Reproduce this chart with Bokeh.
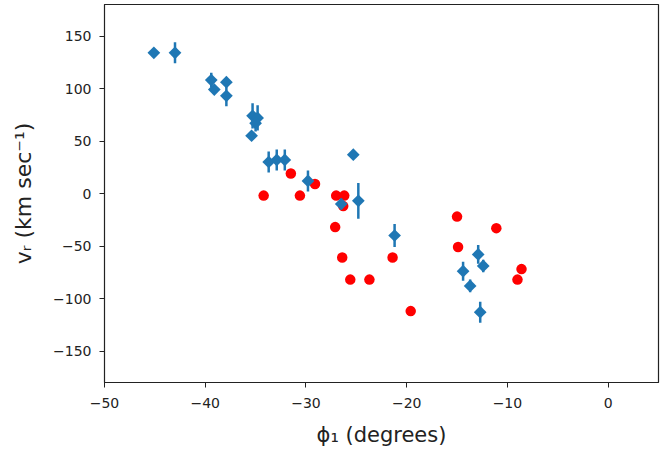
import numpy as np
from bokeh.plotting import figure
from bokeh.models import ColumnDataSource, CustomJSTickFormatter, FixedTicker, Range1d
from bokeh.embed import file_html
from bokeh.resources import INLINE

# Blue: measured stars with error bars
blue_x = [-45.1, -43.0, -39.4, -39.1, -37.9, -37.9, -35.3, -34.8, -35.0, -35.4,
          -33.7, -32.9, -32.1, -29.8, -25.3, -26.5, -24.8, -21.2, -12.9, -12.4,
          -14.4, -13.7, -12.7]
blue_y = [134, 134, 108, 99, 106, 93, 74, 72, 67, 55,
          30, 32, 32, 12, 37, -10, -7, -40, -58, -69,
          -74, -88, -113]
blue_err = [3, 10, 7, 4, 4, 10, 12, 12, 8, 4,
            10, 10, 10, 10, 4, 5, 17, 11, 9, 6,
            9, 6, 10]

# Red: model / other sample
red_x = [-31.5, -34.2, -30.6, -29.1, -27.0, -26.2, -26.3, -27.1, -26.4, -25.6,
         -23.7, -21.4, -15.0, -11.1, -14.9, -19.6, -8.6, -9.0]
red_y = [19, -2, -2, 9, -2, -2, -12, -32, -61, -82,
         -82, -61, -22, -33, -51, -112, -72, -82]

x_ticks = [-50, -40, -30, -20, -10, 0]
y_ticks = [-150, -100, -50, 0, 50, 100, 150]

FONT = "DejaVu Sans"

p = figure(width=666, height=455, output_backend="svg", toolbar_location=None,
           x_range=Range1d(-50, 5), y_range=Range1d(-180, 180),
           min_border_left=104, min_border_right=8, min_border_top=4,
           min_border_bottom=73)
p.frame_width = 554
p.frame_height = 378

p.grid.visible = False
p.outline_line_color = "#222222"
p.outline_line_width = 1.2
p.background_fill_color = "white"
p.border_fill_color = "white"

be = np.array(blue_err)
by = np.array(blue_y)
bsrc = ColumnDataSource(dict(x=blue_x, y=blue_y, lo=list(by - be), hi=list(by + be)))
rsrc = ColumnDataSource(dict(x=red_x, y=red_y))

p.scatter("x", "y", source=rsrc, marker="circle", size=10.5, color="red", line_color=None)
p.segment(x0="x", y0="lo", x1="x", y1="hi", source=bsrc, line_color="#1f77b4", line_width=2.5)
p.scatter("x", "y", source=bsrc, marker="square", angle=np.pi / 4, size=9,
          color="#1f77b4", line_color=None)

fmt = CustomJSTickFormatter(code="return tick.toFixed(0).replace('-', '\u2212');")
p.xaxis.ticker = FixedTicker(ticks=x_ticks)
p.yaxis.ticker = FixedTicker(ticks=y_ticks)
p.xaxis.formatter = fmt
p.yaxis.formatter = fmt

for ax in (p.xaxis[0], p.yaxis[0]):
    ax.major_label_text_font = FONT
    ax.major_label_text_font_size = "14px"
    ax.major_label_text_color = "#222222"
    ax.axis_label_text_font = FONT
    ax.axis_label_text_font_style = "normal"
    ax.axis_label_text_color = "#222222"
    ax.major_tick_out = 5
    ax.major_tick_in = 0
    ax.minor_tick_line_color = None
    ax.axis_line_color = "#222222"
    ax.major_tick_line_color = "#222222"

p.xaxis.major_label_standoff = 10
p.yaxis.major_label_standoff = 8
p.xaxis.axis_label = "\u03d5\u2081 (degrees)"
p.xaxis.axis_label_text_font_size = "21px"
p.xaxis.axis_label_standoff = 12
p.yaxis.axis_label = "v\u1d63 (km sec\u207b\u00b9)"
p.yaxis.axis_label_text_font_size = "22px"
p.yaxis.axis_label_standoff = 14

open("out.html", "w").write(file_html(p, INLINE))
